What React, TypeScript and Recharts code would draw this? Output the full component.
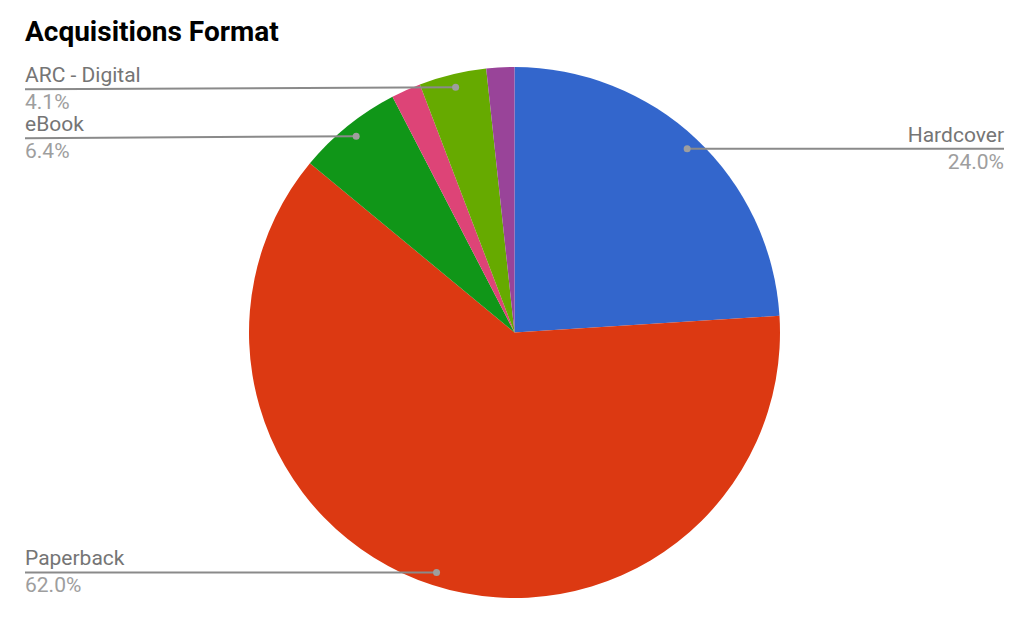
import * as React from "react";
import { PieChart, Pie, Cell } from "recharts";

const formats = ["Hardcover", "Paperback", "eBook", "Audiobook", "ARC - Digital", "ARC - Print"];
const shares = [24.0, 62.0, 6.4, 1.8, 4.1, 1.7];
const colors = ["#3366cc", "#dc3912", "#109618", "#dd4477", "#66aa00", "#994499"];
const labelled = ["Hardcover", "Paperback", "eBook", "ARC - Digital"];

const data = formats.map((name, i) => ({ name, value: shares[i] }));

const RAD = Math.PI / 180;

function renderLabel(props: any) {
  const { cx, cy, midAngle, outerRadius, percent, name } = props;
  if (!labelled.includes(name)) return null;
  const r = outerRadius * 0.95;
  const x = cx + r * Math.cos(-midAngle * RAD);
  const y = cy + r * Math.sin(-midAngle * RAD);
  const right = x > cx;
  const endX = right ? 1004 : 25;
  const anchor = right ? "end" : "start";
  // labels near the top get nudged down a touch, like the original
  const ty = y < 150 && !right ? y + 2 : y;
  return (
    <g>
      <line x1={x} y1={y} x2={endX} y2={ty} stroke="#8a8a8a" strokeWidth={2} />
      <circle cx={x} cy={y} r={3.5} fill="#9e9e9e" />
      <text x={endX} y={ty - 7} textAnchor={anchor} fontSize={21} fill="#757575" fontFamily="Roboto">
        {name}
      </text>
      <text x={endX} y={ty + 20} textAnchor={anchor} fontSize={21} fill="#9e9e9e" fontFamily="Roboto">
        {(percent * 100).toFixed(1)}%
      </text>
    </g>
  );
}

export default function App() {
  return (
    <div style={{ position: "absolute", left: 0, top: 0, width: 1024, height: 617, background: "#fff" }}>
      <div
        style={{
          position: "absolute",
          left: 25,
          top: 18,
          fontFamily: "Roboto",
          fontWeight: 700,
          fontSize: 28,
          lineHeight: "28px",
          color: "#000",
        }}
      >
        Acquisitions Format
      </div>
      <PieChart width={1024} height={617} margin={{ top: 0, right: 0, bottom: 0, left: 0 }}>
        <Pie
          data={data}
          dataKey="value"
          nameKey="name"
          cx={514.5}
          cy={332.5}
          outerRadius={265.5}
          startAngle={90}
          endAngle={-270}
          stroke="none"
          labelLine={false}
          label={renderLabel}
          isAnimationActive={false}
        >
          {data.map((entry, i) => (
            <Cell key={entry.name} fill={colors[i]} />
          ))}
        </Pie>
      </PieChart>
    </div>
  );
}
